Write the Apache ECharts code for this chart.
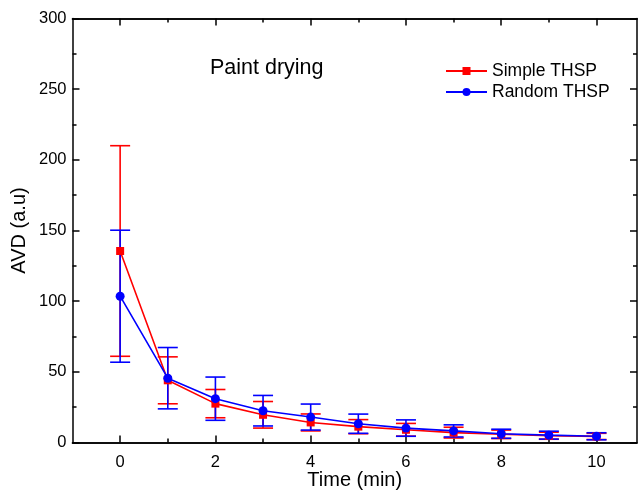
<!DOCTYPE html>
<html>
<head>
<meta charset="utf-8">
<script src="https://cdn.jsdelivr.net/npm/echarts@6/dist/echarts.min.js"></script>
<style>html,body{margin:0;padding:0;background:#fff}#c{width:642px;height:491px}</style>
</head>
<body>
<div id="c"></div>
<script>
var times = [0, 1, 2, 3, 4, 5, 6, 7, 8, 9, 10];
var simpleMean = [135.5, 44, 27.5, 19.6, 14.2, 11.2, 9, 7, 5.8, 4.8, 4.3];
var simpleErr = [74.5, 16.6, 10, 9.4, 6, 5, 4.5, 3.8, 3, 2.5, 2.2];
var randomMean = [103.5, 45.5, 31, 22.5, 18, 13.3, 10.2, 8.2, 6.2, 5.2, 4.4];
var randomErr = [46.7, 21.7, 15.3, 10.8, 9.2, 6.8, 5.8, 4.3, 3.2, 2.8, 2.5];
var xMajor = [0, 2, 4, 6, 8, 10];
var xMinor = [1, 3, 5, 7, 9];

var FONT = 'Liberation Sans';
var RED = '#ff0000', BLUE = '#0000ff';

function pts(m) { return times.map(function (t, i) { return [t, m[i]]; }); }
function errs(m, e) { return times.map(function (t, i) { return [t, m[i] - e[i], m[i] + e[i]]; }); }

function errSeries(name, data, color) {
  return {
    type: 'custom', name: name, data: data, xAxisIndex: 0, yAxisIndex: 0,
    renderItem: function (params, api) {
      var lo = api.coord([api.value(0), api.value(1)]);
      var hi = api.coord([api.value(0), api.value(2)]);
      var hw = 10;
      var st = { stroke: color, lineWidth: 1.6 };
      return {
        type: 'group',
        children: [
          { type: 'line', shape: { x1: lo[0], y1: lo[1], x2: hi[0], y2: hi[1] }, style: st },
          { type: 'line', shape: { x1: lo[0] - hw, y1: lo[1], x2: lo[0] + hw, y2: lo[1] }, style: st },
          { type: 'line', shape: { x1: hi[0] - hw, y1: hi[1], x2: hi[0] + hw, y2: hi[1] }, style: st }
        ]
      };
    },
    silent: true, z: 2
  };
}

var chart = echarts.init(document.getElementById('c'));
var axisLineStyle = { color: '#000', width: 1.5 };
function xAx(pos, ticks, len, label, name) {
  return {
    type: 'value', position: pos, min: -1, max: 10.85,
    axisLine: { show: true, onZero: false, lineStyle: axisLineStyle },
    axisTick: { show: true, inside: true, length: len, customValues: ticks, lineStyle: { color: '#000', width: 1.5 } },
    axisLabel: label ? { show: true, customValues: ticks, color: '#000', fontSize: 16.5, fontFamily: FONT, margin: 11 } : { show: false },
    splitLine: { show: false },
    name: name || '', nameLocation: 'middle', nameGap: 27.5, nameMoveOverlap: false,
    nameTextStyle: { color: '#000', fontSize: 20, fontFamily: FONT }
  };
}
function yAx(pos, label, name) {
  return {
    type: 'value', position: pos, min: 0, max: 300, interval: 50,
    axisLine: { show: true, onZero: false, lineStyle: axisLineStyle },
    axisTick: { show: true, inside: true, length: 7, lineStyle: { color: '#000', width: 1.5 } },
    minorTick: { show: true, splitNumber: 2, length: 4, lineStyle: { color: '#000', width: 1.5 } },
    axisLabel: label ? { show: true, color: '#000', fontSize: 16.5, fontFamily: FONT, margin: 6 } : { show: false },
    splitLine: { show: false },
    name: name || '', nameLocation: 'middle', nameGap: 43.5, nameMoveOverlap: false,
    nameTextStyle: { color: '#000', fontSize: 20, fontFamily: FONT }
  };
}

chart.setOption({
  backgroundColor: '#fff',
  animation: false,
  grid: { left: 72.5, top: 18.5, right: 5, bottom: 48.5, containLabel: false, outerBoundsMode: 'none' },
  title: { text: 'Paint drying', left: 210, top: 57, padding: 0, textStyle: { fontSize: 21.5, fontWeight: 'normal', color: '#000', fontFamily: FONT } },
  legend: {
    orient: 'vertical', left: 445, top: 62, padding: 0, itemWidth: 41, itemHeight: 10, itemGap: 3,
    textStyle: { fontSize: 17.5, lineHeight: 15, color: '#000', fontFamily: FONT },
    data: ['Simple THSP', 'Random THSP']
  },
  xAxis: [
    xAx('bottom', xMajor, 7, true, 'Time (min)'),
    xAx('bottom', xMinor, 4, false),
    xAx('top', xMajor, 7, false),
    xAx('top', xMinor, 4, false)
  ],
  yAxis: [
    yAx('left', true, 'AVD (a.u)'),
    yAx('right', false)
  ],
  series: [
    errSeries('Simple THSP err', errs(simpleMean, simpleErr), RED),
    {
      type: 'line', name: 'Simple THSP', data: pts(simpleMean), xAxisIndex: 0, yAxisIndex: 0,
      symbol: 'rect', symbolSize: 8, itemStyle: { color: RED }, lineStyle: { color: RED, width: 1.6 }, z: 3
    },
    errSeries('Random THSP err', errs(randomMean, randomErr), BLUE),
    {
      type: 'line', name: 'Random THSP', data: pts(randomMean), xAxisIndex: 0, yAxisIndex: 0,
      symbol: 'circle', symbolSize: 9, itemStyle: { color: BLUE }, lineStyle: { color: BLUE, width: 1.6 }, z: 4
    }
  ]
});
</script>
</body>
</html>
